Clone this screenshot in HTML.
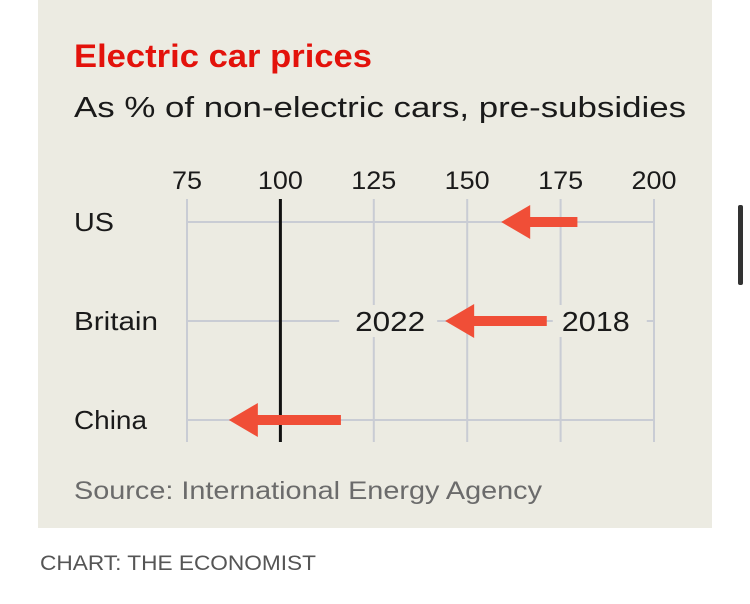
<!DOCTYPE html>
<html><head><meta charset="utf-8"><style>
html,body{margin:0;padding:0;background:#fff;width:750px;height:604px;overflow:hidden}
svg{display:block;font-family:"Liberation Sans",sans-serif}
</style></head><body>
<svg width="750" height="604" viewBox="0 0 750 604">
<rect x="38" y="0" width="674" height="528" fill="#ecebe2"/>
<rect x="738" y="205" width="5" height="80" rx="2" fill="#333"/>
<text x="74" y="67" font-size="32" font-weight="bold" fill="#e3120b" textLength="298" lengthAdjust="spacingAndGlyphs">Electric car prices</text>
<text x="74" y="117" font-size="29" fill="#1a1a1a" textLength="612" lengthAdjust="spacingAndGlyphs">As % of non-electric cars, pre-subsidies</text>
<g id="grid"></g>
<g id="ticks"></g>
<g id="rows"></g>
<g id="arrows"></g>
<text x="74" y="499" font-size="25" fill="#6b6b6b" textLength="468" lengthAdjust="spacingAndGlyphs">Source: International Energy Agency</text>
<text x="40" y="570" font-size="21" fill="#555" textLength="276" lengthAdjust="spacingAndGlyphs">CHART: THE ECONOMIST</text>
</svg>
<script>
const categories = ["US", "Britain", "China"];
const values2018 = [179.5, 171.3, 116.2];
const values2022 = [159.1, 144.1, 86.2];
const tickValues = [75, 100, 125, 150, 175, 200];
const tickLabels = ["75", "100", "125", "150", "175", "200"];

const NS = "http://www.w3.org/2000/svg";
const rowLabelWidths = {"US": 40, "Britain": 84, "China": 73};
const xScale = v => 187 + (v - 75) * (654 - 187) / 125;
const rowY = i => 222 + i * 99;
const plotTop = 199, plotBottom = 442;
function mk(tag, attrs, parent) {
  const e = document.createElementNS(NS, tag);
  for (const k in attrs) e.setAttribute(k, attrs[k]);
  document.getElementById(parent).appendChild(e);
  return e;
}
tickValues.forEach((v, i) => {
  const l = mk("line", {x1: xScale(v), x2: xScale(v), y1: plotTop, y2: plotBottom, stroke: "#c9ccd4", "stroke-width": 2}, "grid");
  
  
  const t = mk("text", {x: xScale(v), y: 189, "font-size": 25, fill: "#1a1a1a", "text-anchor": "middle", textLength: tickLabels[i].length * 15, lengthAdjust: "spacingAndGlyphs"}, "ticks");
  t.textContent = tickLabels[i];
  
  
});
categories.forEach((c, i) => {
  const y = rowY(i);
  const g = mk("line", {x1: xScale(75), x2: xScale(200), y1: y, y2: y, stroke: "#c9ccd4", "stroke-width": 2}, "grid");
  
  
  const attrs = {x: 74, y: y + 9, "font-size": 26, fill: "#1a1a1a"};
  if (rowLabelWidths[c]) { attrs.textLength = rowLabelWidths[c]; attrs.lengthAdjust = "spacingAndGlyphs"; }
  const t = mk("text", attrs, "rows");
  t.textContent = c;
  
  
});
const ref = mk("line", {x1: xScale(100), x2: xScale(100), y1: plotTop, y2: plotBottom, stroke: "#111", "stroke-width": 3}, "grid");


categories.forEach((c, i) => {
  const y = rowY(i), x0 = xScale(values2018[i]), x1 = xScale(values2022[i]);
  const p = mk("path", {d: `M${x0},${y-5} L${x1+29},${y-5} L${x1+29},${y-17} L${x1},${y} L${x1+29},${y+17} L${x1+29},${y+5} L${x0},${y+5} Z`, fill: "#f04e37"}, "arrows");
  
  
  if (i === 1) {
    const b1 = mk("rect", {x: x1 - 106, y: y - 16, width: 98, height: 32, fill: "#ecebe2"}, "arrows");
    
    
    const t1 = mk("text", {x: x1 - 55, y: y + 10, "font-size": 28, fill: "#1a1a1a", "text-anchor": "middle", textLength: 70, lengthAdjust: "spacingAndGlyphs"}, "arrows");
    t1.textContent = "2022";
    
    
    const b2 = mk("rect", {x: x0 + 6, y: y - 16, width: 94, height: 32, fill: "#ecebe2"}, "arrows");
    
    
    const t2 = mk("text", {x: x0 + 49, y: y + 10, "font-size": 28, fill: "#1a1a1a", "text-anchor": "middle", textLength: 68, lengthAdjust: "spacingAndGlyphs"}, "arrows");
    t2.textContent = "2018";
    
    
  }
});
</script>
</body></html>
